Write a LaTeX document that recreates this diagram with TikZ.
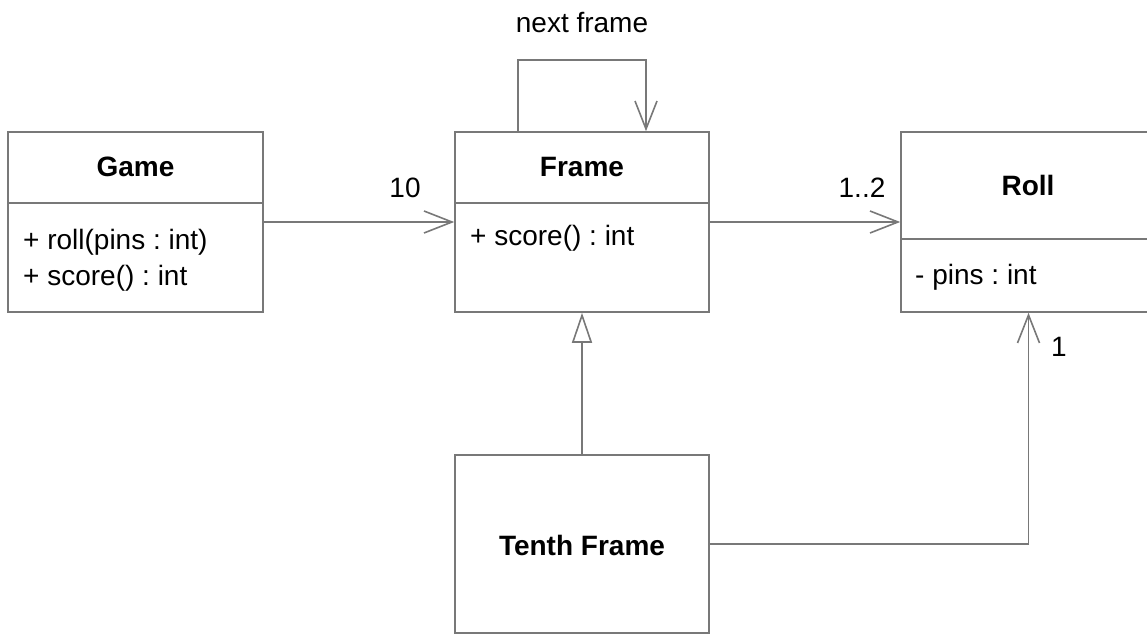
\documentclass[tikz,border=0pt]{standalone}
\usepackage{fontspec}
\setmainfont{Liberation Sans}
\frenchspacing
\usetikzlibrary{arrows.meta}
\definecolor{linegray}{RGB}{120,120,120}
\tikzset{
  umlbox/.style={draw=linegray, line width=1.6pt, rectangle, inner sep=0pt},
  divider/.style={draw=linegray, line width=1.6pt},
  conn/.style={draw=linegray, line width=1.6pt},
  assoc/.style={conn, -{Straight Barb[length=28pt,width=22pt,line width=1.6pt]}},
  inherit/.style={conn, -{Triangle[open,length=30pt,width=20pt,fill=white,line width=1.6pt]}},
  title/.style={font=\fontsize{28}{33}\selectfont\bfseries, inner sep=0pt},
  member/.style={font=\fontsize{28}{33}\selectfont, inner sep=0pt, anchor=west},
  lbl/.style={font=\fontsize{28}{33}\selectfont, inner sep=0pt},
}
\begin{document}
\begin{tikzpicture}[x=1pt, y=-1pt]
\useasboundingbox (0,0) rectangle (1147,634);
% boxes
\node[umlbox, minimum width=255pt, minimum height=180pt] (game) at (135.5,222) {};
\node[umlbox, minimum width=254pt, minimum height=180pt] (frame) at (582,222) {};
\node[umlbox, minimum width=255pt, minimum height=180pt] (roll) at (1028.5,222) {};
\node[umlbox, minimum width=254pt, minimum height=178pt] (tenth) at (582,544) {};
% dividers
\draw[divider] (game.west |- 0,203) -- (game.east |- 0,203);
\draw[divider] (frame.west |- 0,203) -- (frame.east |- 0,203);
\draw[divider] (roll.west |- 0,239) -- (roll.east |- 0,239);
% texts
\node[title] (gametitle) at (135.5,167) {Game};
\node[member] (gamem1) at (23,242) {+ roll(pins : int)};
\node[member] (gamem2) at (23,278) {+ score() : int};
\node[title] (frametitle) at (582,167) {Frame};
\node[member] (framem1) at (470,238) {+ score() : int};
\node[title] (rolltitle) at (1028,185) {Roll};
\node[member] (rollm1) at (915,277) {- pins : int};
\node[title] (tenthtitle) at (582,545) {Tenth Frame};
% connectors
\coordinate (loopA) at (518,60);
\coordinate (loopB) at (646,60);
\draw[assoc] (frame.north -| loopA) -- (loopA) -- (loopB) -- (frame.north -| loopB);
\node[lbl] (nextlbl) at (582,23) {next frame};
\draw[assoc] (game.east) -- (frame.west);
\node[lbl] (tenlbl) at (405,188) {10};
\draw[assoc] (frame.east) -- (roll.west);
\node[lbl] (onetwolbl) at (862,188) {1..2};
\draw[inherit] (tenth.north) -- (frame.south);
\draw[assoc] (tenth.east) -| (roll.south);
\node[lbl] (onelbl) at (1059,347) {1};
\end{tikzpicture}
\end{document}
